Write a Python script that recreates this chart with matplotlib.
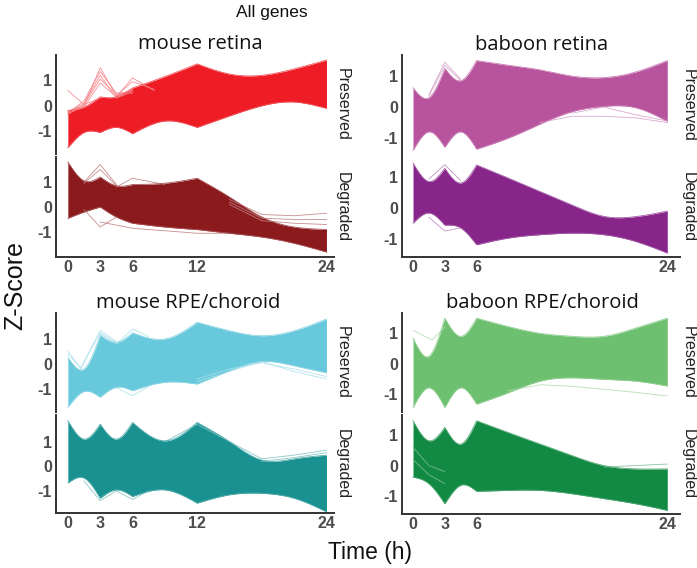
import numpy as np
import matplotlib
matplotlib.use("Agg")
import matplotlib.pyplot as plt

T = [0, 1.5, 3, 4.5, 6, 9, 12, 15, 18, 21, 24]
MOUSE_KNOTS = [0, 3, 6, 12, 24]
BABOON_KNOTS = [0, 3, 6, 24]
MOUSE_TICKS = [0, 3, 6, 12, 24]
BABOON_TICKS = [0, 3, 6, 24]

# upper / lower edge of the bundle of z-score curves, per panel
mr_pres_up = [-0.2, -0.05, 0.35, 0.35, 0.7, 1.15, 1.65, 1.25, 1.2, 1.45, 1.8]
mr_pres_lo = [-1.65, -1.05, -1.05, -0.85, -1.1, -0.6, -0.85, -0.4, 0.0, 0.15, -0.1]
mr_degr_up = [1.8, 1.05, 1.2, 0.85, 0.9, 0.95, 1.15, 0.4, -0.4, -0.8, -0.9]
mr_degr_lo = [-0.45, -0.2, 0.0, -0.4, -0.65, -0.8, -0.9, -1.05, -1.2, -1.45, -1.8]

br_pres_up = [0.62, 0.3, 1.25, 0.85, 1.5, 1.35, 1.2, 1.0, 0.95, 1.13, 1.5]
br_pres_lo = [-1.4, -0.8, -1.3, -0.8, -1.36, -1.0, -0.55, -0.15, 0.02, -0.02, -0.46]
br_degr_up = [1.47, 0.87, 1.3, 0.82, 1.41, 0.98, 0.54, 0.1, -0.27, -0.28, -0.1]
br_degr_lo = [-0.49, -0.16, -0.56, -0.65, -1.2, -0.98, -0.87, -0.82, -0.87, -1.09, -1.47]

mc_pres_up = [0.27, -0.2, 1.15, 0.87, 1.25, 1.0, 1.67, 1.33, 1.13, 1.33, 1.8]
mc_pres_lo = [-1.73, -1.1, -1.33, -0.93, -1.07, -0.73, -0.8, -0.27, 0.1, -0.07, -0.35]
mc_degr_up = [1.85, 1.1, 1.71, 1.1, 1.78, 1.03, 1.78, 1.0, 0.25, 0.3, 0.45]
mc_degr_lo = [-0.68, -0.48, -1.3, -0.96, -1.23, -0.96, -1.5, -1.16, -1.1, -1.3, -1.85]

bc_pres_up = [0.84, 0.24, 1.5, 0.9, 1.5, 1.22, 1.0, 0.9, 0.9, 1.17, 1.5]
bc_pres_lo = [-1.45, -0.8, -1.45, -0.8, -1.34, -0.96, -0.58, -0.47, -0.52, -0.58, -0.74]
bc_degr_up = [1.48, 0.82, 1.26, 0.71, 1.48, 1.09, 0.71, 0.33, 0.0, -0.11, -0.11]
bc_degr_lo = [-0.38, -0.6, -1.26, -0.65, -0.85, -0.82, -0.82, -0.93, -1.09, -1.26, -1.48]

# single genes that stick out of the bundle: (times, z-scores)
mr_pres_out = [([0, 1.5, 3, 4.5, 6], [-0.2, 0.0, 1.5, 0.4, 0.6]),
               ([0, 1.5, 3, 4.5, 6], [-0.3, 0.2, 1.35, 0.5, 0.5]),
               ([0, 1.5, 3, 4.5, 6], [-0.25, 0.1, 1.2, 0.3, 0.55]),
               ([0, 1.5, 3, 4.5, 6], [-0.35, 0.05, 1.05, 0.45, 0.6]),
               ([0, 1.5, 3, 4.5, 6], [-0.3, -0.05, 0.9, 0.35, 0.65]),
               ([0, 1.5, 3], [0.6, 0.05, 0.3]),
               ([4.5, 6, 8], [0.35, 1.1, 0.6]),
               ([4.5, 6, 8], [0.4, 0.95, 0.65])]
mr_degr_out = [([1.5, 3, 4.5], [1.0, 1.7, 0.9]),
               ([1.5, 3, 4.5], [0.95, 1.5, 0.85]),
               ([1.5, 3, 4.5], [-0.1, -0.8, -0.4]),
               ([4.5, 6, 9], [0.8, 1.15, 0.9]),
               ([15, 18, 21, 24], [0.3, -0.3, -0.35, -0.25]),
               ([15, 18, 21, 24], [0.2, -0.45, -0.5, -0.5]),
               ([15, 18, 21, 24], [0.1, -0.55, -0.65, -0.7]),
               ([3, 6, 9, 12, 15], [-0.6, -0.85, -0.95, -1.05, -1.05])]
br_pres_out = [([1.5, 3, 4.5], [0.4, 1.45, 0.9]),
               ([1.5, 3, 4.5], [0.35, 1.35, 0.85]),
               ([12, 15, 18, 21, 24], [-0.5, -0.3, -0.3, -0.35, -0.5]),
               ([15, 18, 21, 24], [-0.2, 0.0, -0.25, -0.45])]
br_degr_out = [([1.5, 3, 4.5], [0.95, 1.42, 0.9]),
               ([1.5, 3, 4.5], [-0.3, -0.75, -0.65])]
mc_pres_out = [([0, 1.2, 3, 4.5], [0.53, -0.2, 1.35, 0.9]),
               ([0, 1.2, 3, 4.5], [0.4, -0.15, 1.25, 0.85]),
               ([3, 4.5, 6, 7.5], [1.2, 0.8, 1.4, 1.1]),
               ([12, 15, 18, 21, 24], [-0.7, -0.3, 0.1, -0.3, -0.6]),
               ([12, 15, 18, 21, 24], [-0.6, -0.2, 0.05, -0.2, -0.5]),
               ([4.5, 6, 7.5], [-0.95, -1.27, -0.9])]
mc_degr_out = [([9, 12, 15, 18], [1.0, 1.7, 1.0, 0.3]),
               ([18, 21, 24], [0.3, 0.45, 0.65]),
               ([18, 21, 24], [0.2, 0.35, 0.55]),
               ([1.5, 3, 4.5], [-0.6, -1.4, -1.0]),
               ([4.5, 6, 7.5], [-1.0, -1.35, -1.0])]
bc_pres_out = [([0, 1.8, 3], [1.1, 0.78, 1.2]),
               ([9, 12, 15, 18, 21, 24], [-0.9, -0.7, -0.75, -0.85, -0.95, -1.07])]
bc_degr_out = [([0, 1.5, 3], [0.6, 0.0, -0.2]),
               ([0, 1.5, 3], [0.2, -0.3, -0.6]),
               ([18, 21, 24], [-0.05, 0.0, 0.05])]


def natural_spline(x, y, xs):
    x = np.asarray(x, float)
    y = np.asarray(y, float)
    n = len(x)
    h = np.diff(x)
    A = np.zeros((n, n))
    r = np.zeros(n)
    A[0, 0] = A[-1, -1] = 1
    for i in range(1, n - 1):
        A[i, i - 1] = h[i - 1]
        A[i, i] = 2 * (h[i - 1] + h[i])
        A[i, i + 1] = h[i]
        r[i] = 6 * ((y[i + 1] - y[i]) / h[i] - (y[i] - y[i - 1]) / h[i - 1])
    M = np.linalg.solve(A, r)
    k = np.clip(np.searchsorted(x, xs) - 1, 0, n - 2)
    dx = xs - x[k]
    hk = h[k]
    a = (M[k + 1] - M[k]) / (6 * hk)
    b = M[k] / 2
    c = (y[k + 1] - y[k]) / hk - hk * (2 * M[k] + M[k + 1]) / 6
    return y[k] + c * dx + b * dx ** 2 + a * dx ** 3


def smooth_edge(vals, knots):
    t = np.array(T, float)
    v = np.array(vals, float)
    xs_all, ys_all = [], []
    for a, b in zip(knots[:-1], knots[1:]):
        m = (t >= a) & (t <= b)
        xs = np.linspace(a, b, 60)
        xs_all.append(xs)
        ys_all.append(natural_spline(t[m], v[m], xs))
    return np.concatenate(xs_all), np.concatenate(ys_all)


def tint(col, f):
    c = np.array(matplotlib.colors.to_rgb(col))
    return tuple(c + (1 - c) * f)


W, H = 697, 568
fig = plt.figure(figsize=(W / 100, H / 100), dpi=100)
AX_COL = "#333333"
TICK_COL = "#4d4d4d"


def make_ax(x0, x1, y0, y1):
    return fig.add_axes([x0 / W, 1 - y1 / H, (x1 - x0) / W, (y1 - y0) / H])


def panel(ax, up, lo, outs, col, knots, ticks, xlim, ylim, bottom):
    xs, yu = smooth_edge(up, knots)
    _, yl = smooth_edge(lo, knots)
    ax.fill_between(xs, yl, yu, color=col, lw=0)
    for ot, oz in outs:
        ax.plot(ot, oz, color=tint(col, 0.45), lw=0.6, alpha=0.9)
    ax.plot(xs, yu, color=tint(col, 0.25), lw=0.6)
    ax.plot(xs, yl, color=tint(col, 0.25), lw=0.6)
    ax.set_xlim(*xlim)
    ax.set_ylim(*ylim)
    ax.set_facecolor("none")
    for s in ["top", "right"]:
        ax.spines[s].set_visible(False)
    ax.spines["left"].set_color(AX_COL)
    ax.spines["left"].set_linewidth(1.4)
    ax.set_yticks([-1, 0, 1])
    ax.set_yticklabels(["-1", "0", "1"], fontsize=11.5, fontweight="bold",
                       color=TICK_COL, family="Liberation Sans")
    ax.tick_params(axis="y", length=0, pad=3)
    if bottom:
        ax.spines["bottom"].set_color(AX_COL)
        ax.spines["bottom"].set_linewidth(1.4)
        ax.set_xticks(ticks)
        ax.set_xticklabels([str(v) for v in ticks], fontsize=11.5, fontweight="bold",
                           color=TICK_COL, family="Liberation Sans")
        ax.tick_params(axis="x", length=0, pad=2)
    else:
        ax.spines["bottom"].set_visible(False)
        ax.set_xticks([])


def strip(x, y, label):
    fig.text(x / W, 1 - y / H, label, rotation=270, ha="center", va="center",
             fontsize=11.5, family="Liberation Sans", color="#222222")


def title(x, y, label):
    fig.text(x / W, 1 - y / H, label, ha="center", va="center",
             fontsize=14.5, family="Open Sans", color="#111111")


mouse_xlim = (-1.1, 24.7)
baboon_xlim = (-1.04, 25.2)

blocks = [
    (56, 334, (55, 154), (157, 257),
     (mr_pres_up, mr_pres_lo, mr_pres_out), (mr_degr_up, mr_degr_lo, mr_degr_out),
     ("#ee1c25", "#8b1a1d"), MOUSE_KNOTS, MOUSE_TICKS, mouse_xlim,
     (-1.9, 2.0), (-2.0, 2.0), "mouse retina", 200, 44, 342),
    (402, 680, (55, 155), (157, 257),
     (br_pres_up, br_pres_lo, br_pres_out), (br_degr_up, br_degr_lo, br_degr_out),
     ("#b8549d", "#87258a"), BABOON_KNOTS, BABOON_TICKS, baboon_xlim,
     (-1.55, 1.68), (-1.6, 1.67), "baboon retina", 542, 45, 688),
    (56, 334, (313, 412), (415, 513),
     (mc_pres_up, mc_pres_lo, mc_pres_out), (mc_degr_up, mc_degr_lo, mc_degr_out),
     ("#68c9dc", "#1a9191"), MOUSE_KNOTS, MOUSE_TICKS, mouse_xlim,
     (-1.92, 2.04), (-1.9, 2.08), "mouse RPE/choroid", 188, 303, 342),
    (402, 680, (313, 412), (415, 514),
     (bc_pres_up, bc_pres_lo, bc_pres_out), (bc_degr_up, bc_degr_lo, bc_degr_out),
     ("#6dc06f", "#138a43"), BABOON_KNOTS, BABOON_TICKS, baboon_xlim,
     (-1.6, 1.67), (-1.6, 1.67), "baboon RPE/choroid", 542, 303, 688),
]

for (x0, x1, py, dy, pdat, ddat, cols, knots, ticks, xlim,
     pyl, dyl, name, tx, ty, sx) in blocks:
    axp = make_ax(x0, x1, *py)
    panel(axp, *pdat, cols[0], knots, ticks, xlim, pyl, False)
    axd = make_ax(x0, x1, *dy)
    panel(axd, *ddat, cols[1], knots, ticks, xlim, dyl, True)
    title(tx, ty, name)
    strip(sx, sum(py) / 2, "Preserved")
    strip(sx, sum(dy) / 2, "Degraded")

fig.text(272 / W, 1 - 12 / H, "All genes", ha="center", va="center",
         fontsize=12.5, family="Liberation Sans", color="#111111")
fig.text(370 / W, 1 - 552 / H, "Time (h)", ha="center", va="center",
         fontsize=16.5, family="Liberation Sans", color="#111111")
fig.text(15 / W, 1 - 285 / H, "Z-Score", ha="center", va="center", rotation=90,
         fontsize=18, family="Liberation Sans", color="#111111")

fig.savefig("out.png", dpi=100)
